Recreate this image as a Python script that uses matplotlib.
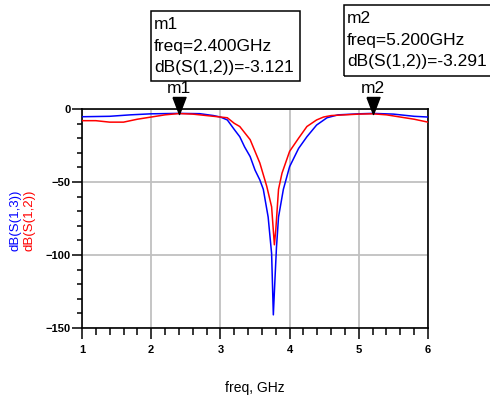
import matplotlib
matplotlib.use("Agg")
import matplotlib.pyplot as plt
from matplotlib.patches import Rectangle
from matplotlib.ticker import MultipleLocator

plt.rcParams['font.family'] = ['Liberation Sans', 'DejaVu Sans']

# DATA
freq_s13 = [1.0, 1.4, 1.7, 2.0, 2.4, 2.7, 2.9, 3.0, 3.1, 3.2, 3.28, 3.35, 3.43, 3.5,
            3.57, 3.62, 3.69, 3.74, 3.765, 3.79, 3.81, 3.84, 3.91, 4.0, 4.13, 4.25,
            4.39, 4.54, 4.7, 5.0, 5.2, 5.5, 5.8, 6.0]
db_s13 = [-5.3, -5.0, -4.0, -3.3, -3.0, -3.2, -4.5, -5.5, -7.5, -14, -19, -26, -32.6, -41.8,
          -48.6, -55, -74, -99, -141, -115, -95, -74, -55, -39.5, -27, -19,
          -11, -6, -4, -3.3, -3.0, -3.5, -5.0, -5.5]

freq_s12 = [1.0, 1.2, 1.4, 1.6, 1.8, 2.0, 2.2, 2.4, 2.6, 2.8, 3.0, 3.1, 3.2, 3.28,
            3.43, 3.57, 3.67, 3.74, 3.78, 3.80, 3.84, 3.89, 4.0, 4.13, 4.25, 4.39,
            4.49, 4.6, 4.8, 5.0, 5.2, 5.4, 5.6, 5.8, 6.0]
db_s12 = [-8, -8, -9, -9, -7, -5.5, -4, -3.121, -3.5, -4.5, -5.5, -6, -9.8, -12,
          -21, -37, -53, -67, -93, -83, -55, -44, -29, -20, -12, -7.5,
          -5.5, -4.5, -4, -3.5, -3.291, -4, -5.5, -7, -9]

marker_names = ["m1", "m2"]
marker_freq = [2.4, 5.2]
marker_db = [-3.121, -3.291]

W, H = 490, 399
fig = plt.figure(figsize=(W / 100, H / 100), dpi=100)
ax = fig.add_axes([82 / W, 1 - 328 / H, (428 - 82) / W, (328 - 109) / H])

ax.plot(freq_s13, db_s13, color="#0000ff", lw=1.1, zorder=3)
ax.plot(freq_s12, db_s12, color="#ff0000", lw=1.1, zorder=3)

ax.set_xlim(1, 6)
ax.set_ylim(-150, 0)
ax.xaxis.set_major_locator(MultipleLocator(1))
ax.xaxis.set_minor_locator(MultipleLocator(0.2))
ax.yaxis.set_major_locator(MultipleLocator(50))
ax.yaxis.set_minor_locator(MultipleLocator(10))
ax.xaxis.set_major_formatter(lambda v, pos: f"{v:.0f}")
ax.grid(True, which='major', color="#c0c0c0", lw=1.3)
ax.set_axisbelow(True)
for s in ax.spines.values():
    s.set_linewidth(1.2)
ax.tick_params(axis='x', which='major', length=8, width=1.1, direction='out',
               labelsize=8, pad=4)
ax.tick_params(axis='x', which='minor', length=5, width=1.1, direction='out')
ax.tick_params(axis='y', which='major', length=7, width=1.1, direction='out',
               labelsize=8, pad=1)
ax.tick_params(axis='y', which='minor', length=3.5, width=1.1, direction='out')
for lab in ax.get_xticklabels() + ax.get_yticklabels():
    lab.set_fontweight('bold')

ax.set_xlabel("freq, GHz", fontsize=10, labelpad=19)

# y labels (two series names, rotated)
fig.text(15.5 / W, 1 - 220 / H, "dB(S(1,3))", color="#0000ff", rotation=90,
         ha='center', va='center', fontsize=9.5)
fig.text(29.5 / W, 1 - 220 / H, "dB(S(1,2))", color="#ff0000", rotation=90,
         ha='center', va='center', fontsize=9.5)

# markers: tall downward triangles with the tip on the curve
tri = [(-6.5, 17), (6.5, 17), (0, 0), (-6.5, 17)]
ax.plot(marker_freq, marker_db, ls='none', marker=tri, markersize=24.5,
        color='black', clip_on=False, zorder=5)
for name, f, d in zip(marker_names, marker_freq, marker_db):
    ax.annotate(name, (f, d), xytext=(0, 18), textcoords='offset points',
                ha='center', va='center', fontsize=12.5)

# readout boxes
boxes = [(151, 11, 300, 81), (344, 5, 495, 76)]
for (x0, y0, x1, y1), name, f, d in zip(boxes, marker_names, marker_freq, marker_db):
    fig.patches.append(Rectangle((x0 / W, 1 - y1 / H), (x1 - x0) / W, (y1 - y0) / H,
                                 transform=fig.transFigure, fill=False,
                                 edgecolor='black', lw=1.1))
    txt = f"{name}\nfreq={f:.3f}GHz\ndB(S(1,2))={d:.3f}"
    fig.text((x0 + 3) / W, 1 - (y0 + 35) / H, txt, ha='left', va='center',
             fontsize=12.5, linespacing=1.55)

fig.savefig("out.png", dpi=100)
